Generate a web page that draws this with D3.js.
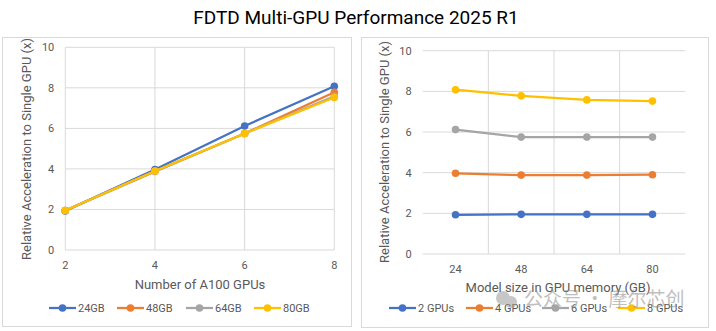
<!DOCTYPE html>
<html>
<head>
<meta charset="utf-8">
<script src="https://cdn.jsdelivr.net/npm/d3@7"></script>
<style>
  body { margin: 0; background: #fff; }
  text { font-family: "Liberation Sans Narrow", Roboto, "Open Sans", sans-serif; }
</style>
</head>
<body>
<div id="container"></div>
<script>
/* DATA */
const gpuCounts = [2, 4, 6, 8];
const memSizes = [24, 48, 64, 80];
// speedup for each model size, indexed by gpu count
const speedup24GB = [1.93, 3.97, 6.12, 8.08];
const speedup48GB = [1.95, 3.88, 5.75, 7.78];
const speedup64GB = [1.95, 3.88, 5.75, 7.58];
const speedup80GB = [1.95, 3.90, 5.75, 7.52];
const memLabels = ["24GB", "48GB", "64GB", "80GB"];
const gpuLabels = ["2 GPUs", "4 GPUs", "6 GPUs", "8 GPUs"];
const yTicks = [0, 2, 4, 6, 8, 10];

const colors = ["#4472C4", "#ED7D31", "#A5A5A5", "#FFC000"];
const bySize = [speedup24GB, speedup48GB, speedup64GB, speedup80GB];
// transpose for the right chart: one series per gpu count
const byGpu = gpuCounts.map((g, i) => bySize.map(s => s[i]));

/* CONSTANTS */
const width = 716, height = 331;
const svg = d3.select("#container").append("svg")
  .attr("width", width)
  .attr("height", height);

svg.append("text")
  .attr("x", 356).attr("y", 24)
  .attr("text-anchor", "middle")
  .attr("font-size", 19)
  .attr("fill", "#000")
  .text("FDTD Multi-GPU Performance 2025 R1");

function drawPanel(cfg) {
  const g = svg.append("g");
  g.append("rect")
    .attr("x", cfg.box[0]).attr("y", cfg.box[1])
    .attr("width", cfg.box[2]).attr("height", cfg.box[3])
    .attr("fill", "#fff").attr("stroke", "#d9d9d9");

  const y = d3.scaleLinear().domain([0, 10]).range([cfg.plot.bottom, cfg.plot.top]);

  // horizontal grid
  g.selectAll("line.hgrid")
    .data(yTicks)
    .join("line")
    .attr("x1", cfg.plot.left).attr("x2", cfg.plot.right)
    .attr("y1", d => y(d)).attr("y2", d => y(d))
    .attr("stroke", "#d9d9d9");

  // vertical grid
  g.selectAll("line.vgrid")
    .data(cfg.vgrid)
    .join("line")
    .attr("x1", d => d).attr("x2", d => d)
    .attr("y1", cfg.plot.top).attr("y2", cfg.plot.bottom)
    .attr("stroke", "#d9d9d9");

  g.selectAll("text.ytick")
    .data(yTicks)
    .join("text")
    .attr("x", cfg.plot.left - 11)
    .attr("y", d => y(d) + 4)
    .attr("text-anchor", "end")
    .attr("font-size", 11)
    .attr("fill", "#595959")
    .text(d => d);

  g.selectAll("text.xtick")
    .data(cfg.xDomain)
    .join("text")
    .attr("x", d => cfg.x(d))
    .attr("y", cfg.plot.bottom + 19)
    .attr("text-anchor", "middle")
    .attr("font-size", 11)
    .attr("fill", "#595959")
    .text(d => d);

  g.append("text")
    .attr("x", cfg.xTitle[0]).attr("y", cfg.xTitle[1])
    .attr("text-anchor", "middle")
    .attr("font-size", 13)
    .attr("fill", "#595959")
    .text(cfg.xTitleText);

  g.append("text")
    .attr("transform", `translate(${cfg.yTitle[0]},${cfg.yTitle[1]}) rotate(-90)`)
    .attr("text-anchor", "middle")
    .attr("font-size", 13)
    .attr("fill", "#595959")
    .text("Relative Acceleration to Single GPU (x)");

  const line = d3.line()
    .x((d, i) => cfg.x(cfg.xDomain[i]))
    .y(d => y(d));

  const series = g.selectAll("g.series")
    .data(cfg.series.map((values, k) => ({ values, k })))
    .join("g");

  series.append("path")
    .attr("d", d => line(d.values))
    .attr("fill", "none")
    .attr("stroke", d => colors[d.k])
    .attr("stroke-width", 2.25);

  series.each(function (s) {
    d3.select(this).selectAll("circle")
      .data(s.values)
      .join("circle")
      .attr("cx", (d, i) => cfg.x(cfg.xDomain[i]))
      .attr("cy", d => y(d))
      .attr("r", 3.8)
      .attr("fill", colors[s.k]);
  });

  // legend
  const leg = g.selectAll("g.leg")
    .data(cfg.legend)
    .join("g")
    .attr("transform", (d, i) => `translate(${cfg.legendX[i]},${cfg.legendY})`);
  leg.append("line")
    .attr("x1", 0).attr("x2", 27)
    .attr("stroke", (d, i) => colors[i])
    .attr("stroke-width", 2.25);
  leg.append("circle")
    .attr("cx", 13.5).attr("r", 3.8)
    .attr("fill", (d, i) => colors[i]);
  leg.append("text")
    .attr("x", 29).attr("y", 4)
    .attr("font-size", 11)
    .attr("fill", "#595959")
    .text(d => d);
}

/* LEFT: speedup vs gpu count */
const xLeft = d3.scaleLinear().domain([2, 8]).range([65.3, 334.3]);
drawPanel({
  box: [2.5, 37.5, 349, 289],
  plot: { left: 65.3, right: 334.3, top: 47.3, bottom: 250 },
  x: xLeft,
  xDomain: gpuCounts,
  vgrid: gpuCounts.map(d => xLeft(d)),
  series: bySize,
  legend: memLabels,
  legendX: [49, 117, 186, 254],
  legendY: 308,
  xTitle: [200, 289],
  xTitleText: "Number of A100 GPUs",
  yTitle: [31, 149]
});

/* RIGHT: speedup vs model size */
const xRight = d3.scaleBand().domain(memSizes).range([422.7, 685.3]);
const xRightC = d => xRight(d) + xRight.bandwidth() / 2;
drawPanel({
  box: [361.5, 37.5, 347, 290],
  plot: { left: 422.7, right: 685.3, top: 50.7, bottom: 254 },
  x: xRightC,
  xDomain: memSizes,
  vgrid: memSizes.slice(1).map(d => xRight(d)),
  series: byGpu,
  legend: gpuLabels,
  legendX: [389, 466, 542, 618],
  legendY: 308,
  xTitle: [558, 292],
  xTitleText: "Model size in GPU memory (GB)",
  yTitle: [389, 152]
});

// watermark overlay
const wm = svg.append("g").attr("opacity", 0.55);
wm.append("circle").attr("cx", 503).attr("cy", 298).attr("r", 7).attr("fill", "#9a9a9a");
wm.append("circle").attr("cx", 511).attr("cy", 302).attr("r", 6).attr("fill", "#9a9a9a");
wm.append("text")
  .attr("x", 524).attr("y", 306)
  .attr("font-size", 19)
  .attr("fill", "#8c8c8c")
  .style("font-family", "'Noto Sans CJK SC', sans-serif")
  .text("公众号 · 摩尔芯创");
</script>
</body>
</html>
